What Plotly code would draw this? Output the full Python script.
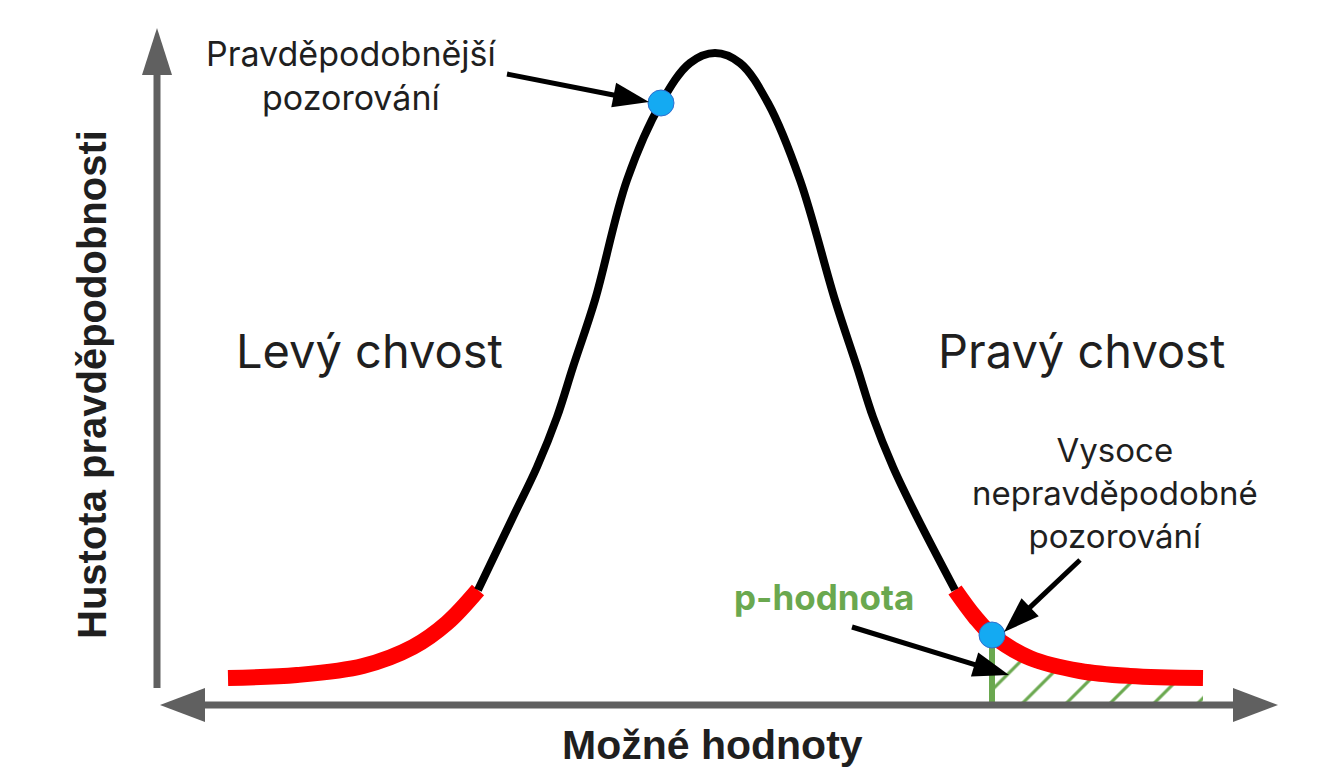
import plotly.graph_objects as go

# curve: x position and height above the x axis
curve_x = [228, 297, 363, 413, 447, 478, 513, 537, 557, 573, 595, 627, 661, 690, 715,
           740, 768, 800, 835, 857, 873, 893, 917, 955, 975, 992, 1030, 1080, 1130, 1203]
curve_h = [27, 30, 39, 58, 82, 115, 188, 238, 288, 338, 405, 525, 602, 642, 652,
           642, 602, 525, 405, 338, 288, 238, 188, 115, 88, 70, 47, 34, 29, 27]

left_tail_end = 478
right_tail_start = 955

# the two marked observations
obs_x = [661, 992]
obs_h = [602, 70]

p_value_x = 992

RED = "#ff0000"
GREEN = "#6aa84f"
BLUE = "#14aaf2"
AXIS_GREY = "#606060"
TEXT = "#1f1f1f"


def seg(lo, hi):
    xs = [x for x in curve_x if lo <= x <= hi]
    hs = [h for x, h in zip(curve_x, curve_h) if lo <= x <= hi]
    return xs, hs


def head_path(x0, y0, x1, y1, head_len, head_w):
    """Triangle at (x1,y1) pointing away from (x0,y0); returns path and base point."""
    dx, dy = x1 - x0, y1 - y0
    n = (dx * dx + dy * dy) ** 0.5
    ux, uy = dx / n, dy / n
    bx, by = x1 - ux * head_len, y1 - uy * head_len
    px, py = -uy * head_w / 2, ux * head_w / 2
    path = f"M {x1},{y1} L {bx + px},{by + py} L {bx - px},{by - py} Z"
    return path, (bx + ux, by + uy)


def arrow_shapes(x0, y0, x1, y1, width, head_len, head_w, color, both=False):
    path, (ex, ey) = head_path(x0, y0, x1, y1, head_len, head_w)
    out = [dict(type="path", fillcolor=color, line=dict(width=0), path=path)]
    if both:
        path0, (x0, y0) = head_path(x1, y1, x0, y0, head_len, head_w)
        out.append(dict(type="path", fillcolor=color, line=dict(width=0), path=path0))
    out.insert(0, dict(type="line", x0=x0, y0=y0, x1=ex, y1=ey,
                       line=dict(color=color, width=width)))
    return out


fig = go.Figure()

# hatched p-value area
hx, hh = seg(p_value_x, curve_x[-1])
fig.add_trace(go.Scatter(x=[hx[0], hx[-1]], y=[3, 3], mode="lines",
                         line=dict(width=0), hoverinfo="skip"))
fig.add_trace(go.Scatter(
    x=hx, y=hh, mode="lines", line=dict(width=0, shape="spline"),
    fill="tonexty", fillcolor="rgba(0,0,0,0)",
    fillpattern=dict(shape="/", fgcolor=GREEN, fgopacity=1,
                     bgcolor="rgba(0,0,0,0)", size=31, solidity=0.1),
    hoverinfo="skip",
))

# density curve: red tails, black centre
lx, lh = seg(curve_x[0], left_tail_end)
cx, ch = seg(left_tail_end, right_tail_start)
rx, rh = seg(right_tail_start, curve_x[-1])
for xs, hs, col, w in [(lx, lh, RED, 16), (rx, rh, RED, 16), (cx, ch, "black", 8)]:
    fig.add_trace(go.Scatter(x=xs, y=hs, mode="lines",
                             line=dict(color=col, width=w, shape="spline")))

# p-value boundary line
fig.add_trace(go.Scatter(x=[p_value_x, p_value_x], y=[3, obs_h[1]], mode="lines",
                         line=dict(color=GREEN, width=6)))

# observations
fig.add_trace(go.Scatter(x=obs_x, y=obs_h, mode="markers",
                         marker=dict(size=26, color=BLUE,
                                     line=dict(color="#2f6fd0", width=1))))

shapes = []
# axes
shapes += arrow_shapes(157, 17, 157, 677, 7, 47, 30, AXIS_GREY)
shapes += arrow_shapes(160, 0, 1278, 0, 7, 45, 34, AXIS_GREY, both=True)
# pointers
shapes += arrow_shapes(507, 631, 649, 603, 5, 36, 25, "black")
shapes += arrow_shapes(1080, 145, 1004, 73, 5, 36, 25, "black")
shapes += arrow_shapes(852, 78, 1009, 30, 5, 36, 25, "black")

font_main = "Inter, Poppins, sans-serif"
font_axis = "Liberation Sans, Arial, sans-serif"

annotations = [
    dict(x=351, y=630, text="Pravděpodobnější<br>pozorování", font=dict(size=34)),
    dict(x=369, y=355, text="Levý chvost", font=dict(size=47)),
    dict(x=1081, y=355, text="Pravý chvost", font=dict(size=47)),
    dict(x=1115, y=212, text="Vysoce<br>nepravděpodobné<br>pozorování", font=dict(size=33)),
    dict(x=824, y=108, text="<b>p-hodnota</b>", font=dict(size=35, color=GREEN)),
    dict(x=712, y=-40, text="<b>Možné hodnoty</b>",
         font=dict(size=41, family=font_axis)),
    dict(x=92, y=320, text="<b>Hustota pravděpodobnosti</b>", textangle=-90,
         font=dict(size=40, family=font_axis)),
]
for a in annotations:
    a.update(xref="x", yref="y", showarrow=False)
    a["font"].setdefault("family", font_main)
    a["font"].setdefault("color", TEXT)

fig.update_layout(
    shapes=shapes,
    annotations=annotations,
    showlegend=False,
    width=1343,
    height=784,
    margin=dict(l=0, r=0, t=0, b=0),
    plot_bgcolor="white",
    paper_bgcolor="white",
)
# the page puts the figure 8 px in from the corner, so shift the ranges to match
fig.update_xaxes(range=[8, 1351], visible=False)
fig.update_yaxes(range=[-87, 697], visible=False)

fig.write_html("out.html")
